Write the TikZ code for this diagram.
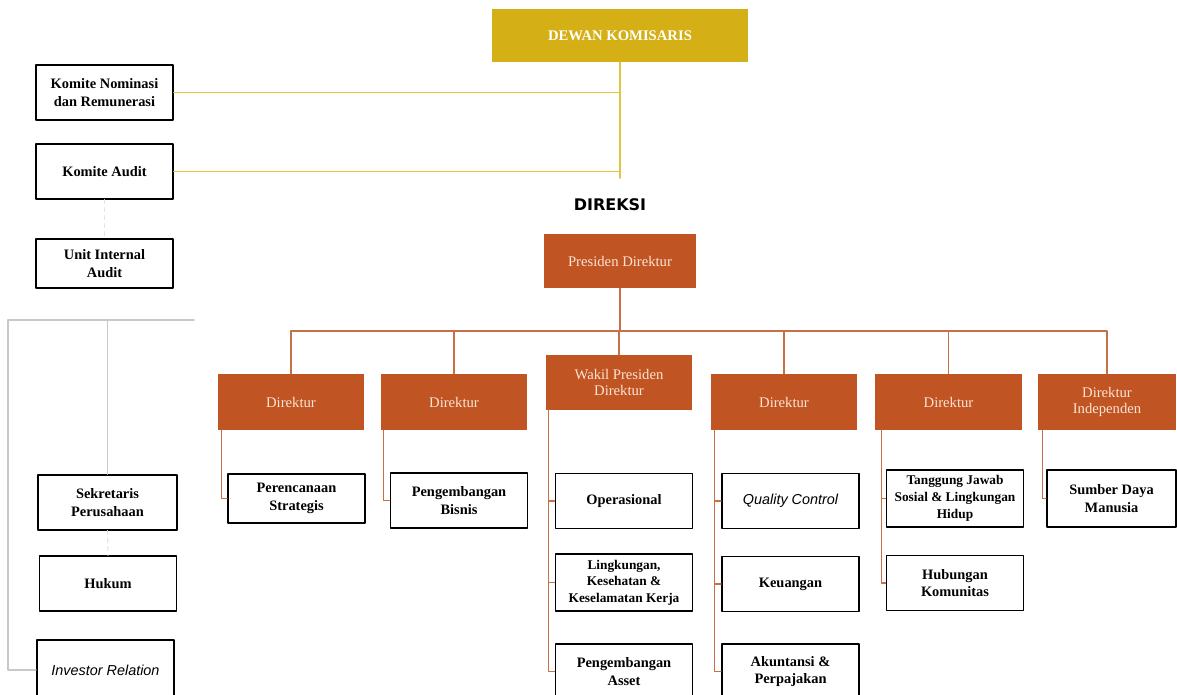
\documentclass[tikz,border=0pt]{standalone}
\usepackage{fontspec}
\setmainfont{Liberation Serif}
\setsansfont{Liberation Sans}
\newfontfamily\direksifont{DejaVu Sans}
\usetikzlibrary{positioning}
\definecolor{komgold}{RGB}{212,176,22}
\definecolor{komline}{RGB}{224,198,62}
\definecolor{dirorange}{RGB}{192,84,34}
\definecolor{dirline}{RGB}{198,112,72}
\definecolor{dirtext}{RGB}{252,228,212}
\definecolor{staffline}{RGB}{200,200,200}

\begin{document}
\begin{tikzpicture}[x=0.75pt,y=-0.75pt,line cap=round,line join=round,
  unitbox/.style={draw=black,line width=1.2pt,fill=white,align=center,inner sep=1pt,
    font=\bfseries\fontsize{10.8}{13}\selectfont,minimum width=103pt,minimum height=41pt},
  italbox/.style={unitbox,font=\sffamily\itshape\fontsize{10.8}{13}\selectfont},
  goldbox/.style={fill=komgold,text=white,font=\bfseries\fontsize{11}{13}\selectfont,
    minimum width=192pt,minimum height=40pt},
  dirbox/.style={fill=dirorange,text=dirtext,align=center,inner sep=1pt,
    font=\fontsize{11}{12.5}\selectfont,minimum width=110pt,minimum height=42pt},
  goldconn/.style={draw=komline,line width=1.4pt},
  dirconn/.style={draw=dirline,line width=1pt},
  staffconn/.style={draw=staffline,line width=0.9pt}]
\useasboundingbox (0,0) rectangle (1177,695);
\clip (0,0) rectangle (1177,695);

% dewan komisaris dan komite
\node[goldbox] (dk) at (620,35.5) {DEWAN KOMISARIS};
\node[unitbox] (kn) at (104.5,92.5) {Komite Nominasi\\dan Remunerasi};
\node[unitbox] (ka) at (104.5,171.5) {Komite Audit};
\node[unitbox,minimum height=37pt] (uia) at (104.5,263.5) {Unit Internal\\Audit};
\coordinate (dkend) at (620,178);
\draw[goldconn] (dk.south) -- (dkend);
\draw[goldconn] (kn.east) -- (kn.east -| dkend);
\draw[goldconn] (ka.east) -- (ka.east -| dkend);
\draw[staffconn,draw=staffline!50,dashed] (ka.south) -- (uia.north);

% staf presiden direktur
\node[unitbox,minimum width=104pt] (sp) at (107.5,502.5) {Sekretaris\\Perusahaan};
\node[unitbox] (hk) at (108,583.5) {Hukum};
\node[italbox,minimum height=45pt] (ir) at (105.5,670) {Investor Relation};
\coordinate (stafftop) at (8,320);
\coordinate (staffend) at (194,320);
\draw[staffconn] (staffend) -- (stafftop) |- (ir.west);
\draw[staffconn] (sp.north) -- (sp.north |- stafftop);
\draw[staffconn,draw=staffline!50,dashed] (sp.south) -- (hk.north);

% direksi
\node[font=\direksifont\bfseries\fontsize{12}{14}\selectfont] (direksi) at (610,205) {DIREKSI};
\node[dirbox,minimum width=114pt,minimum height=40.5pt] (pd) at (620,261) {Presiden Direktur};
\node[dirbox] (d1) at (291,402) {Direktur};
\node[dirbox] (d2) at (454,402) {Direktur};
\node[dirbox,minimum height=41pt] (wpd) at (619,382.5) {Wakil Presiden\\Direktur};
\node[dirbox] (d4) at (784,402) {Direktur};
\node[dirbox] (d5) at (948.5,402) {Direktur};
\node[dirbox,minimum width=104pt] (d6) at (1107,402) {Direktur\\Independen};
\coordinate (bus) at (620,331);
\draw[dirconn] (pd.south) -- (bus);
\foreach \d in {d1,d2,wpd,d4,d5,d6}
  \draw[dirconn] (bus) -| (\d.north);

% unit di bawah direktur
\node[unitbox,minimum height=37pt] (ps) at (296.5,498.5) {Perencanaan\\Strategis};
\node[unitbox] (pb) at (459,500.5) {Pengembangan\\Bisnis};
\node[unitbox] (op) at (624,501) {Operasional};
\node[unitbox,minimum height=43pt,font=\bfseries\fontsize{10}{12.4}\selectfont] (lk) at (624,582.5) {Lingkungan,\\Kesehatan \&\\Keselamatan Kerja};
\node[unitbox] (pa) at (624,671.5) {Pengembangan\\Asset};
\node[italbox] (qc) at (790.5,501) {Quality Control};
\node[unitbox] (ku) at (790.5,584) {Keuangan};
\node[unitbox] (ak) at (790.5,671.5) {Akuntansi \&\\Perpajakan};
\node[unitbox,minimum height=43pt,font=\bfseries\fontsize{10}{12.6}\selectfont] (tj) at (955,498.5) {Tanggung Jawab\\Sosial \& Lingkungan\\Hidup};
\node[unitbox] (hb) at (955,583) {Hubungan\\Komunitas};
\node[unitbox,minimum width=97pt,minimum height=43pt] (sd) at (1111.5,498.5) {Sumber Daya\\Manusia};

\draw[dirconn] ([xshift=3pt]d1.south west) |- (ps.west);
\draw[dirconn] ([xshift=2.5pt]d2.south west) |- (pb.west);
\foreach \c in {op,lk,pa}
  \draw[dirconn] ([xshift=2.5pt]wpd.south west) |- (\c.west);
\foreach \c in {qc,ku,ak}
  \draw[dirconn] ([xshift=3pt]d4.south west) |- (\c.west);
\foreach \c in {tj,hb}
  \draw[dirconn] ([xshift=5pt]d5.south west) |- (\c.west);
\draw[dirconn] ([xshift=4pt]d6.south west) |- (sd.west);
\end{tikzpicture}
\end{document}
